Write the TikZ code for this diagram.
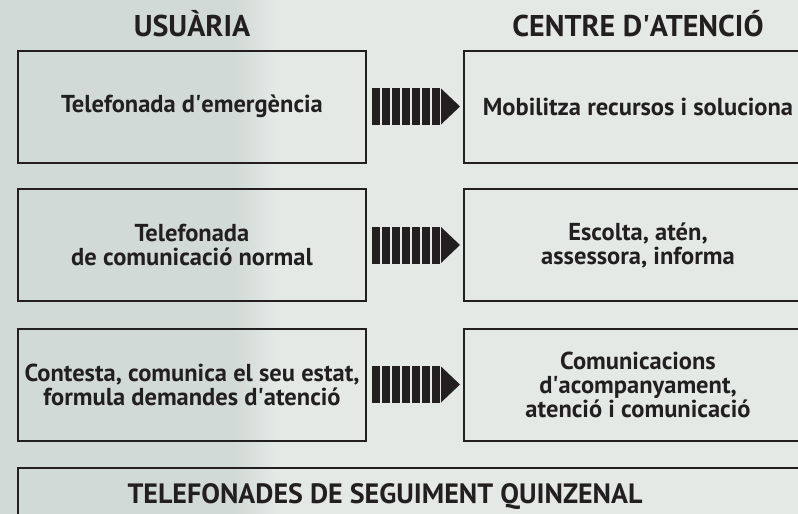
\documentclass[tikz,border=0pt]{standalone}
\usepackage{fontspec}
\setmainfont{PT Sans}
\usetikzlibrary{calc}
\definecolor{ink}{HTML}{231F20}
\definecolor{bgA}{HTML}{D1DAD6}
\definecolor{bgB}{HTML}{E4E9E6}
\newcommand\q{\textquotesingle}
\tikzset{
  box/.style={draw=ink,line width=2pt,outer sep=0pt,minimum width=348pt,minimum height=112pt,inner sep=0pt,align=center,text=ink,font=\fontsize{24.5}{24}\selectfont\bfseries},
  head/.style={text=ink,font=\fontsize{30}{30}\selectfont\bfseries,inner sep=0pt,anchor=base},
  bigtext/.style={text=ink,font=\fontsize{28}{28}\selectfont\bfseries,inner sep=0pt,anchor=base},
  striped/.pic={
    \foreach \i in {0,...,6}{\fill[ink] ({-43+10*\i},-18.5) rectangle ++(8,37);}
    \fill[ink] (26,-18) -- (45,0) -- (26,18) -- cycle;
  }
}
\begin{document}
\begin{tikzpicture}[x=1pt,y=-1pt]
\useasboundingbox (0,0) rectangle (798,514);
\fill[bgB] (0,0) rectangle (798,514);
\shade[left color=bgA,right color=bgA] (0,0) rectangle (235,514);
\shade[left color=bgA,right color=bgB] (235,0) rectangle (275,514);

\node[head] (h1) at (192,36) {USUÀRIA};
\node[head] (h2) at (638,36) {CENTRE D\q ATENCIÓ};

\node[box] (L1) at (192,106.5) {Telefonada d\q emergència};
\node[box] (L2) at (192,245) {Telefonada\\de comunicació normal};
\node[box] (L3) at (192,384.5) {Contesta, comunica el seu estat,\\formula demandes d\q atenció};

\node[box] (R1) at (638,106.5) {Mobilitza recursos i soluciona};
\node[box] (R2) at (638,245) {Escolta, atén,\\assessora, informa};
\node[box] (R3) at (638,384.5) {Comunicacions\\d\q acompanyament,\\atenció i comunicació};

\pic at ($(L1.east)!0.5!(R1.west)$) {striped};
\pic at ($(L2.east)!0.5!(R2.west)$) {striped};
\pic at ($(L3.east)!0.5!(R3.west)$) {striped};

\node[box,anchor=north west,minimum width=800pt,minimum height=80pt] (B) at (18,468) {};
\node[bigtext] (bt) at (385,503) {TELEFONADES DE SEGUIMENT QUINZENAL};
\end{tikzpicture}
\end{document}
